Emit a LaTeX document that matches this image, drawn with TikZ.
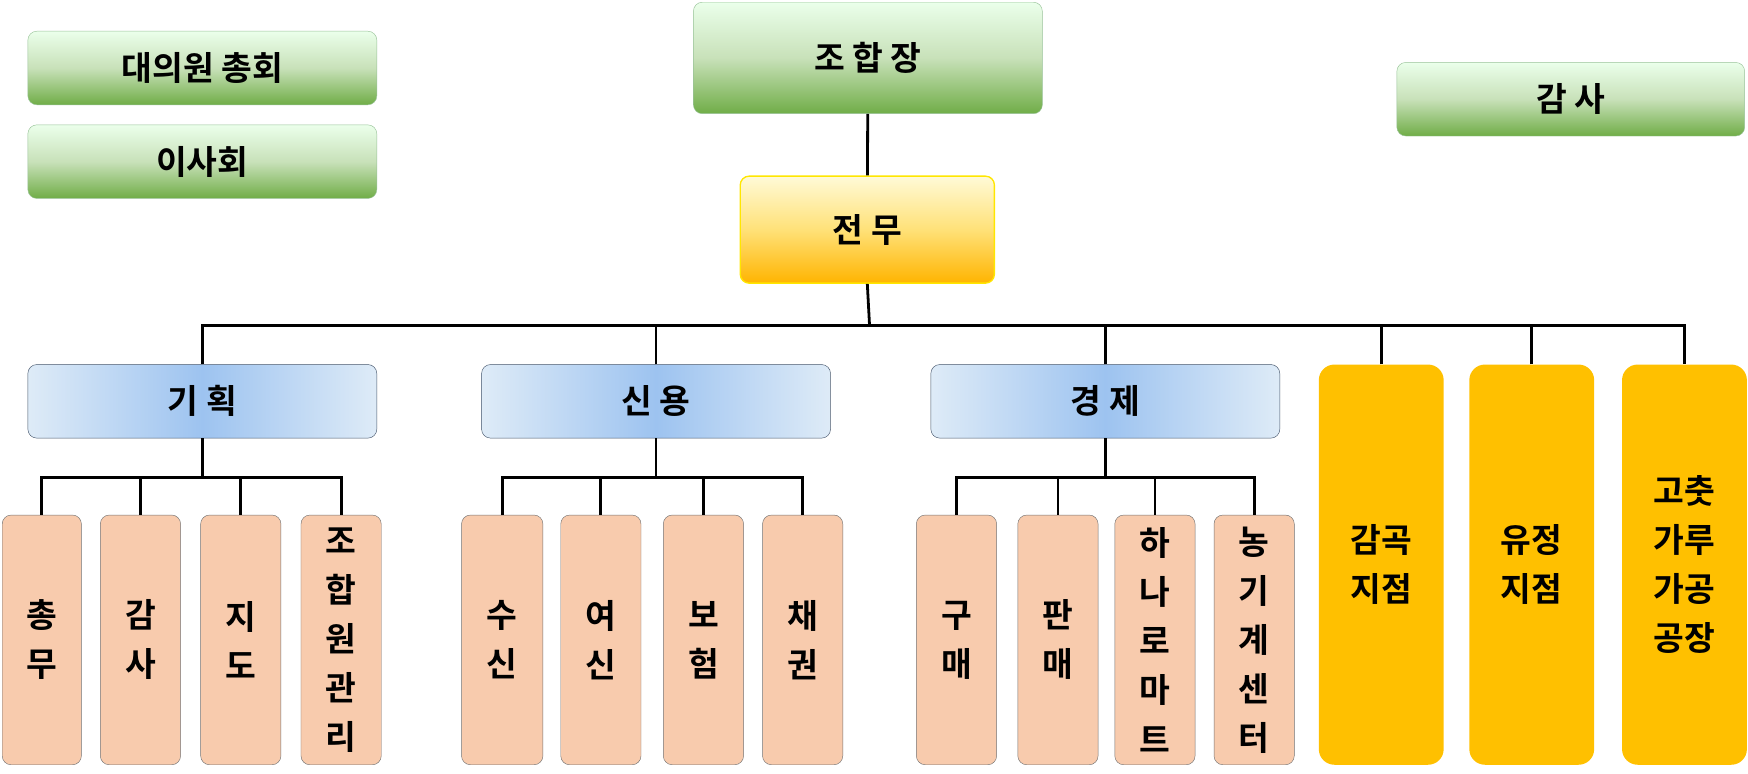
\documentclass[tikz,border=0pt]{standalone}
\usepackage{fontspec}
\setmainfont{Noto Sans CJK KR}[BoldFont={* Bold}]
\begin{document}
\begin{tikzpicture}[x=1pt,y=-1pt,
 box/.style={rounded corners=8pt,inner sep=0pt,font=\fontsize{30}{44}\selectfont\bfseries,align=center},
 green/.style={box,draw=green!40!black!40,top color=green!8!white,bottom color={rgb,255:red,112;green,173;blue,71},middle color={rgb,255:red,200;green,225;blue,185}},
 yel/.style={box,draw={rgb,255:red,255;green,230;blue,0},line width=1.2pt,top color={rgb,255:red,255;green,250;blue,215},bottom color={rgb,255:red,255;green,180;blue,0},middle color={rgb,255:red,255;green,225;blue,120}},
 blu/.style={box,draw={rgb,255:red,68;green,84;blue,106},left color={rgb,255:red,222;green,235;blue,247},right color={rgb,255:red,222;green,235;blue,247},middle color={rgb,255:red,157;green,195;blue,240}},
 org/.style={box,rounded corners=14pt,fill={rgb,255:red,255;green,192;blue,0},draw=none},
 pch/.style={box,fill={rgb,255:red,248;green,203;blue,173},draw=gray!90!black},
 ln/.style={line width=2.5pt}]
\useasboundingbox (0,0) rectangle (1568,694);
\def\bx#1#2#3#4#5#6#7{\node[#1,minimum width={#4-#2},minimum height={#5-#3}] (#6) at ({(#2+#4)/2},{(#3+#5)/2}) {#7};}
\bx{green}{25}{28}{338}{94}{dae}{대의원 총회}
\bx{green}{25}{112}{338}{178}{isa}{이사회}
\bx{green}{622}{2}{935}{102}{jo}{조 합 장}
\bx{green}{1253}{56}{1565}{122}{gam}{감 사}
\bx{yel}{664}{158}{892}{254}{jm}{전 무}
\bx{blu}{25}{327}{338}{393}{gh}{기 획}
\bx{blu}{432}{327}{745}{393}{sy}{신 용}
\bx{blu}{835}{327}{1148}{393}{gj}{경 제}
\bx{org}{1183}{327}{1295}{686}{o1}{감곡\\지점}
\bx{org}{1318}{327}{1430}{686}{o2}{유정\\지점}
\bx{org}{1455}{327}{1567}{686}{o3}{고춧\\가루\\가공\\공장}
\bx{pch}{2}{462}{73}{686}{a1}{총\\무}
\bx{pch}{90}{462}{162}{686}{a2}{감\\사}
\bx{pch}{180}{462}{252}{686}{a3}{지\\도}
\bx{pch}{270}{462}{342}{686}{a4}{조\\합\\원\\관\\리}
\bx{pch}{414}{462}{487}{686}{b1}{수\\신}
\bx{pch}{503}{462}{575}{686}{b2}{여\\신}
\bx{pch}{595}{462}{667}{686}{b3}{보\\험}
\bx{pch}{684}{462}{756}{686}{b4}{채\\권}
\bx{pch}{822}{462}{894}{686}{c1}{구\\매}
\bx{pch}{913}{462}{985}{686}{c2}{판\\매}
\bx{pch}{1000}{462}{1072}{686}{c3}{하\\나\\로\\마\\트}
\bx{pch}{1089}{462}{1161}{686}{c4}{농\\기\\계\\센\\터}
\draw[ln] (jo) -- (jm);
\coordinate (bus) at (780,292);
\draw[ln] (jm.south) -- (bus);
\draw[ln] (gh.north) |- (bus) -| (o3.north);
\foreach \n in {sy,gj,o1,o2} \draw[ln] (\n.north) -- (\n.north |- bus);
\foreach \p/\a/\b/\c/\d in {gh/a1/a2/a3/a4,sy/b1/b2/b3/b4,gj/c1/c2/c3/c4}{
  \draw[ln] (\p.south) -- (\p.south |- 0,428);
  \draw[ln] (\a.north) |- (\d.north |- 0,428) -- (\d.north);
  \draw[ln] (\b.north) -- (\b.north |- 0,428);
  \draw[ln] (\c.north) -- (\c.north |- 0,428);
}
\end{tikzpicture}
\end{document}
